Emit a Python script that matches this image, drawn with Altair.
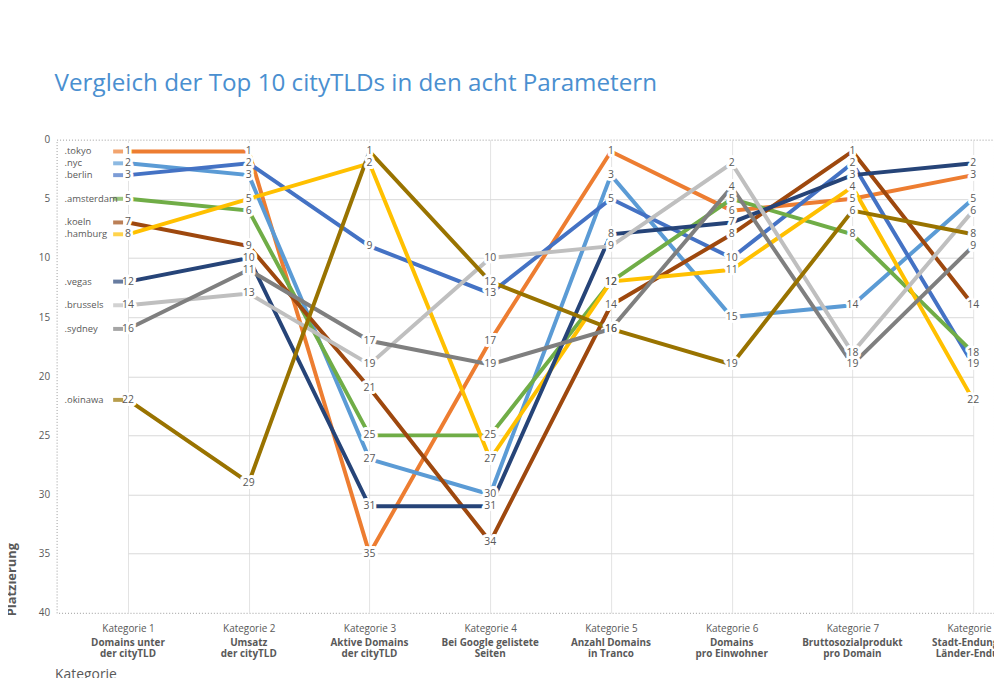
import altair as alt
import pandas as pd

cities = [".tokyo", ".nyc", ".berlin", ".amsterdam", ".koeln", ".hamburg",
          ".vegas", ".brussels", ".sydney", ".okinawa"]
colors = ["#ED7D31", "#5B9BD5", "#4472C4", "#70AD47", "#9E480E", "#FFC000",
          "#264478", "#BFBFBF", "#7F7F7F", "#997300"]

cat_names = ["Kategorie 1", "Kategorie 2", "Kategorie 3", "Kategorie 4",
             "Kategorie 5", "Kategorie 6", "Kategorie 7", "Kategorie 8"]
cat_desc = ["Domains unter|der cityTLD", "Umsatz|der cityTLD",
            "Aktive Domains|der cityTLD", "Bei Google gelistete|Seiten",
            "Anzahl Domains|in Tranco", "Domains|pro Einwohner",
            "Bruttosozialprodukt|pro Domain", "Stadt-Endung vs.|Länder-Endung"]

tokyo = [1, 1, 35, 17, 1, 6, 5, 3]
nyc = [2, 3, 27, 30, 3, 15, 14, 5]
berlin = [3, 2, 9, 13, 5, 10, 2, 19]
amsterdam = [5, 6, 25, 25, 12, 5, 8, 18]
koeln = [7, 9, 21, 34, 14, 8, 1, 14]
hamburg = [8, 5, 2, 27, 12, 11, 4, 22]
vegas = [12, 10, 31, 31, 8, 7, 3, 2]
brussels = [14, 13, 19, 10, 9, 2, 18, 6]
sydney = [16, 11, 17, 19, 16, 4, 19, 9]
okinawa = [22, 29, 1, 12, 16, 19, 6, 8]

series = [tokyo, nyc, berlin, amsterdam, koeln, hamburg, vegas, brussels, sydney, okinawa]

rows = []
for ci, (c, vals) in enumerate(zip(cities, series)):
    for ki, (k, v) in enumerate(zip(cat_names, vals)):
        rows.append({"city": c, "order": ci, "kat": k, "ki": ki, "rank": v})
df = pd.DataFrame(rows)
cats_df = pd.DataFrame({"kat": cat_names, "desc": cat_desc})

FONT = "Open Sans"
GREY = "#595959"
H = 477

xscale = alt.Scale(type="point", range=[72, 924], padding=0, round=False)
yscale = alt.Scale(domain=[0, 40], reverse=True, nice=False, zero=False)

xaxis = alt.Axis(
    title="Kategorie", labelAngle=0, orient="bottom",
    labelPadding=11, ticks=False, domain=False, grid=True, gridColor="#E3E3E3",
    labelColor=GREY, labelFontSize=10, labelFont=FONT,
    titleAnchor="start", titleColor=GREY, titleFontSize=14, titleFont=FONT,
    titleFontWeight="normal", titlePadding=34, titleX=-2)
yaxis = alt.Axis(
    title="Platzierung", values=[0, 5, 10, 15, 20, 25, 30, 35, 40], ticks=False,
    domain=False, labelPadding=7, labelColor=GREY, labelFontSize=10, labelFont=FONT,
    gridColor="#D9D9D9",
    gridOpacity={"condition": {"test": "datum.value == 0 || datum.value == 40", "value": 0}, "value": 1},
    titleColor=GREY, titleFontSize=13, titleFont=FONT, titleFontWeight="bold",
    titleAngle=270, titleAlign="left", titleBaseline="top", titleX=-51, titleY=H + 3)

X = alt.X("kat:N", sort=cat_names, scale=xscale, axis=xaxis)
Y = alt.Y("rank:Q", scale=yscale, axis=yaxis)
C = alt.Color("city:N", scale=alt.Scale(domain=cities, range=colors), legend=None)

base = alt.Chart(df).encode(x=X, y=Y)

lines = base.mark_line(strokeWidth=4).encode(color=C, detail="city:N",
                                             order=alt.Order("ki:Q"))

halo = base.mark_text(stroke="white", strokeWidth=6, strokeJoin="round",
                      fontSize=10.5, font=FONT, fill="white").encode(text="rank:Q")
labels = base.mark_text(fontSize=10.5, font=FONT, color=GREY).encode(text="rank:Q")

first = df[df["ki"] == 0]
leg_base = alt.Chart(first).encode(x=X, y=Y)
leg_text = leg_base.mark_text(align="left", dx=-64, fontSize=9.5, font=FONT,
                              color=GREY).encode(text="city:N")
leg_tick = leg_base.mark_tick(orient="horizontal", size=10, thickness=4,
                              xOffset=-10).encode(color=C)

desc_text = alt.Chart(cats_df).mark_text(
    lineBreak="|", fontWeight="bold", fontSize=10, font=FONT, color=GREY,
    baseline="top", lineHeight=11.5).encode(
    x=alt.X("kat:N", sort=cat_names, scale=xscale, axis=xaxis),
    y=alt.value(H + 25), text="desc:N")

chart = alt.layer(lines, halo, labels, leg_tick, leg_text, desc_text).properties(
    width=945, height=H,
    autosize=alt.AutoSizeParams(type="none"),
    padding={"left": 49, "top": 130, "right": 0, "bottom": 63},
    title=alt.TitleParams(
        text="Vergleich der Top 10 cityTLDs in den acht Parametern",
        anchor="start", frame="group", fontSize=24.4, color="#4A8FD0", font=FONT,
        fontWeight="normal", offset=39, dx=-2),
).configure_view(stroke="#9A9A9A", strokeDash=[1, 2], strokeWidth=1)

chart.save("out.html", embed_options={"renderer": "svg", "actions": False})
